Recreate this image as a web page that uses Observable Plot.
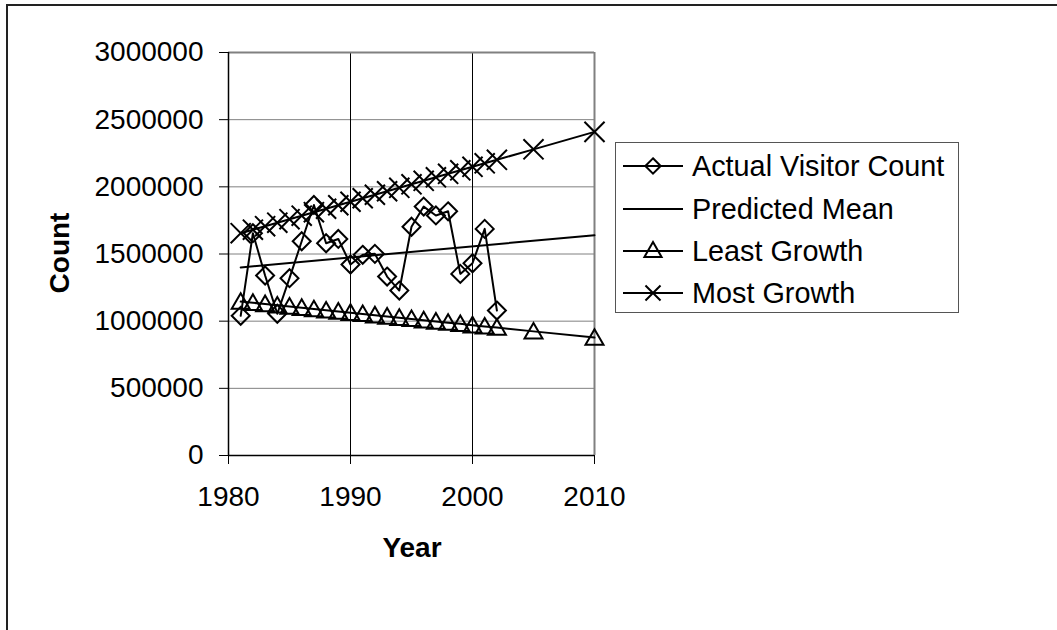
<!DOCTYPE html>
<html>
<head>
<meta charset="utf-8">
<script src="https://cdn.jsdelivr.net/npm/d3@7"></script>
<script src="https://cdn.jsdelivr.net/npm/@observablehq/plot@0.6"></script>
<style>
  html, body { margin: 0; padding: 0; background: #fff; }
  #wrap { position: relative; width: 1057px; height: 630px; overflow: hidden; font-family: "Liberation Sans", Arial, sans-serif; }
  #frame { position: absolute; left: 6px; top: 4px; width: 1200px; height: 800px; border: 2px solid #222; box-sizing: border-box; }
  #chart { position: absolute; left: 0; top: 0; }
  .axlabel { position: absolute; font-weight: bold; font-size: 28px; color: #000; white-space: nowrap; line-height: 1; }
  #legend { position: absolute; left: 615px; top: 142px; width: 344px; height: 171px; border: 1px solid #555; box-sizing: border-box; background: #fff; }
  .row { position: absolute; left: 0; height: 40px; display: flex; align-items: center; }
  .row svg { margin-left: 7px; }
  .row span { margin-left: 9px; font-size: 28.8px; color: #000; white-space: nowrap; }
</style>
</head>
<body>
<div id="wrap">
  <div id="frame"></div>
  <div id="chart"></div>
  <div class="axlabel" id="ylab" style="left:60px; top:253px; transform: translate(-50%,-50%) rotate(-90deg);">Count</div>
  <div class="axlabel" id="xlab" style="left:412px; top:548px; transform: translate(-50%,-50%);">Year</div>
  <div id="legend"></div>
</div>
<script>
// ---- Data ----
const actualYears = [1981,1982,1983,1984,1985,1986,1987,1988,1989,1990,1991,1992,1993,1994,1995,1996,1997,1998,1999,2000,2001,2002];
const actualCount = [1040000,1655000,1340000,1055000,1320000,1595000,1865000,1580000,1612000,1422000,1494000,1501000,1332000,1228000,1703000,1853000,1787000,1818000,1352000,1431000,1687000,1079000];

const meanYears = [1981, 2010];
const meanCount = [1400000, 1640000];

const growthYears = [1981,1982,1983,1984,1985,1986,1987,1988,1989,1990,1991,1992,1993,1994,1995,1996,1997,1998,1999,2000,2001,2002,2005,2010];
const leastGrowth = [1146000,1137000,1128000,1118000,1109000,1100000,1090000,1081000,1072000,1063000,1054000,1044000,1035000,1026000,1017000,1007000,998000,989000,980000,970000,961000,952000,924000,878000];
const mostGrowth = [1655000,1681000,1707000,1733000,1759000,1785000,1811000,1837000,1863000,1889000,1915000,1941000,1967000,1993000,2019000,2045000,2071000,2097000,2123000,2149000,2175000,2201000,2279000,2409000];

const xTicks = [1980, 1990, 2000, 2010];
const yTicks = [0, 500000, 1000000, 1500000, 2000000, 2500000, 3000000];

const seriesNames = ["Actual Visitor Count", "Predicted Mean", "Least Growth", "Most Growth"];

// ---- Build tables ----
const actual = actualYears.map((y, i) => ({year: y, value: actualCount[i]}));
const mean = meanYears.map((y, i) => ({year: y, value: meanCount[i]}));
const least = growthYears.map((y, i) => ({year: y, value: leastGrowth[i]}));
const most = growthYears.map((y, i) => ({year: y, value: mostGrowth[i]}));

const W = 1057, H = 630;
const plot = Plot.plot({
  width: W,
  height: H,
  marginLeft: 228,
  marginRight: W - 594,
  marginTop: 52,
  marginBottom: H - 455,
  style: {fontFamily: "'Liberation Sans', Arial, sans-serif", fontSize: "28px", background: "transparent", overflow: "visible"},
  x: {domain: [1980, 2010], label: null},
  y: {domain: [0, 3000000], label: null},
  marks: [
    Plot.ruleY(yTicks.slice(1, -1), {stroke: "#808080", strokeWidth: 1}),
    Plot.ruleX(xTicks.slice(1, -1), {stroke: "#000", strokeWidth: 1}),
    Plot.ruleY([3000000], {stroke: "#808080", strokeWidth: 2}),
    Plot.ruleX([2010], {stroke: "#808080", strokeWidth: 2}),
    Plot.ruleY([0], {stroke: "#000", strokeWidth: 1.5}),
    Plot.ruleX([1980], {stroke: "#000", strokeWidth: 1.5}),
    Plot.axisY({ticks: yTicks, tickSize: 9, tickPadding: 16, tickFormat: d => String(d), fontSize: 28, stroke: "#000", fill: "#000", label: null}),
    Plot.axisX({ticks: xTicks, tickSize: 9, tickPadding: 22, tickFormat: d => String(d), fontSize: 28, stroke: "#000", fill: "#000", label: null}),
    // Actual
    Plot.line(actual, {x: "year", y: "value", stroke: "#000", strokeWidth: 2}),
    Plot.dot(actual, {x: "year", y: "value", symbol: "diamond2", r: 8.1, stroke: "#000", strokeWidth: 2, fill: "none"}),
    // Predicted mean
    Plot.line(mean, {x: "year", y: "value", stroke: "#000", strokeWidth: 2}),
    // Least growth
    Plot.line(least, {x: "year", y: "value", stroke: "#000", strokeWidth: 2}),
    Plot.dot(least, {x: "year", y: "value", symbol: "triangle2", r: 8.6, stroke: "#000", strokeWidth: 2, fill: "none", dy: 2}),
    // Most growth
    Plot.line(most, {x: "year", y: "value", stroke: "#000", strokeWidth: 2}),
    Plot.dot(most, {x: "year", y: "value", symbol: "times", r: 9.2, stroke: "#000", strokeWidth: 2, fill: "none"})
  ]
});
document.getElementById("chart").appendChild(plot);

// ---- Legend ----
const symbols = [d3.symbolDiamond2, null, d3.symbolTriangle2, d3.symbolTimes];
const sizes = [150, 0, 210, 150];
const rowCenters = [23, 66, 108, 150];
const legend = document.getElementById("legend");
seriesNames.forEach((name, i) => {
  const row = document.createElement("div");
  row.className = "row";
  row.style.top = (rowCenters[i] - 20) + "px";
  const svg = d3.create("svg").attr("width", 60).attr("height", 40);
  svg.append("line").attr("x1", 0).attr("x2", 60).attr("y1", 20).attr("y2", 20).attr("stroke", "#000").attr("stroke-width", 2);
  if (symbols[i]) {
    svg.append("path").attr("d", d3.symbol(symbols[i], sizes[i])()).attr("transform", "translate(30," + (i === 2 ? 21 : 20) + ")")
      .attr("fill", "none").attr("stroke", "#000").attr("stroke-width", 2);
  }
  row.appendChild(svg.node());
  const span = document.createElement("span");
  span.textContent = name;
  row.appendChild(span);
  legend.appendChild(row);
});
</script>
</body>
</html>
